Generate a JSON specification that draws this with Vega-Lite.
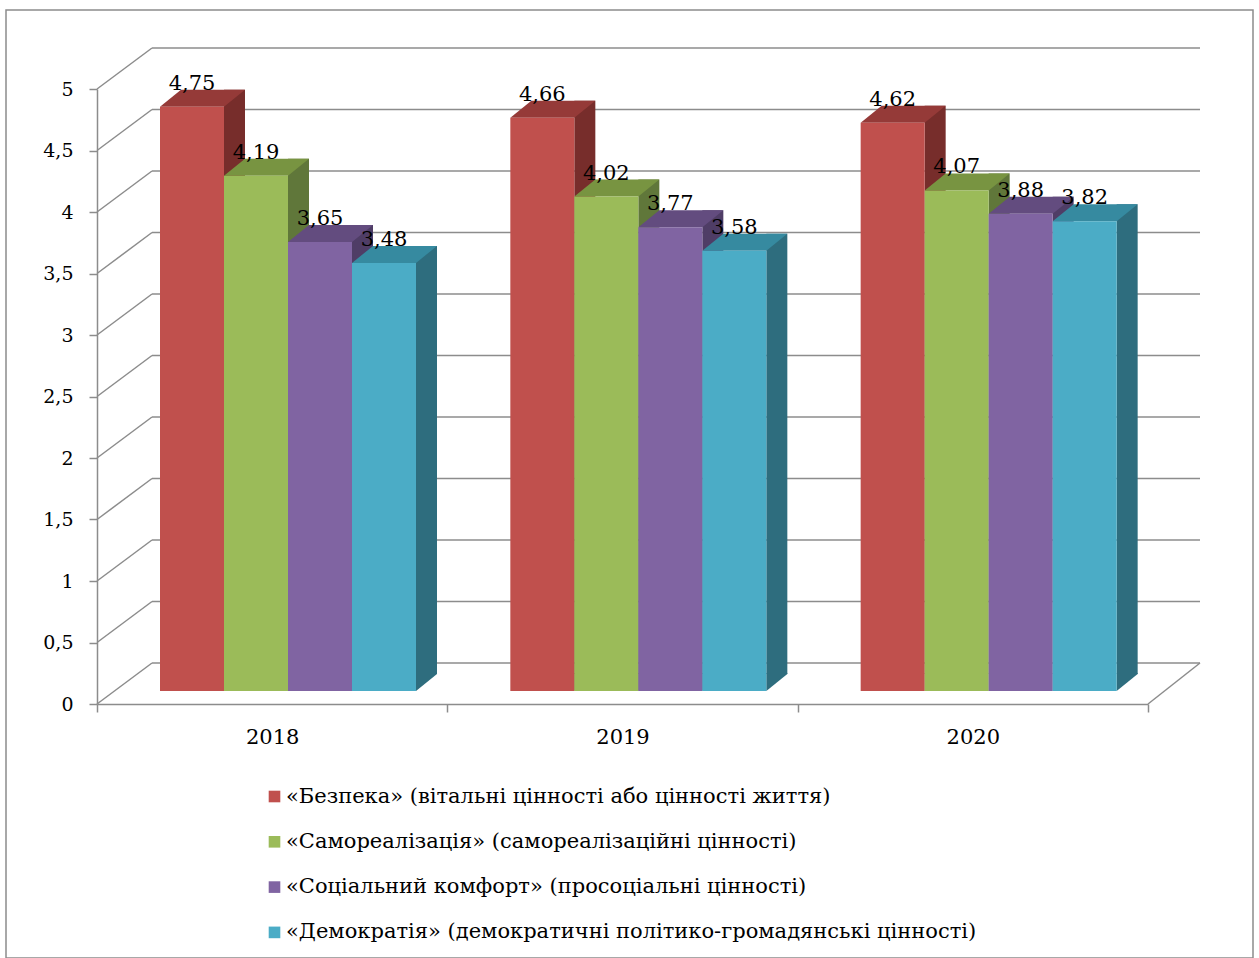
{
  "$schema": "https://vega.github.io/schema/vega-lite/v6.json",
  "width": 1247,
  "height": 948,
  "autosize": {"type": "none"},
  "padding": {"left": 6, "top": 10, "right": 6, "bottom": 0},
  "background": "white",
  "config": {
    "view": {"stroke": "#8c8c8c", "strokeWidth": 1.5},
    "font": "DejaVu Serif",
    "locale": {"number": {"decimal": ",", "thousands": " ", "grouping": [3], "currency": ["", ""]}},
    "axis": {
      "labelFont": "DejaVu Serif",
      "labelColor": "#000000",
      "domainColor": "#8c8c8c",
      "tickColor": "#8c8c8c",
      "domainWidth": 1.5,
      "tickWidth": 1.5,
      "grid": false
    },
    "legend": {
      "orient": "none",
      "legendX": 258,
      "legendY": 776,
      "direction": "vertical",
      "symbolType": "square",
      "symbolSize": 135,
      "symbolStrokeWidth": 0,
      "labelFont": "DejaVu Serif",
      "labelFontSize": 21,
      "labelColor": "#000000",
      "labelLimit": 0,
      "rowPadding": 23.3,
      "labelOffset": 1,
      "padding": 0,
      "title": null
    }
  },
  "datasets": {
    "bars": [
      {"year": "2018", "series": "«Безпека» (вітальні цінності або цінності життя)", "value": 4.75},
      {"year": "2018", "series": "«Самореалізація» (самореалізаційні цінності)", "value": 4.19},
      {"year": "2018", "series": "«Соціальний комфорт» (просоціальні цінності)", "value": 3.65},
      {"year": "2018", "series": "«Демократія» (демократичні політико-громадянські цінності)", "value": 3.48},
      {"year": "2019", "series": "«Безпека» (вітальні цінності або цінності життя)", "value": 4.66},
      {"year": "2019", "series": "«Самореалізація» (самореалізаційні цінності)", "value": 4.02},
      {"year": "2019", "series": "«Соціальний комфорт» (просоціальні цінності)", "value": 3.77},
      {"year": "2019", "series": "«Демократія» (демократичні політико-громадянські цінності)", "value": 3.58},
      {"year": "2020", "series": "«Безпека» (вітальні цінності або цінності життя)", "value": 4.62},
      {"year": "2020", "series": "«Самореалізація» (самореалізаційні цінності)", "value": 4.07},
      {"year": "2020", "series": "«Соціальний комфорт» (просоціальні цінності)", "value": 3.88},
      {"year": "2020", "series": "«Демократія» (демократичні політико-громадянські цінності)", "value": 3.82}
    ],
    "grid": [
      {"v": 0}, {"v": 0.5}, {"v": 1}, {"v": 1.5}, {"v": 2}, {"v": 2.5},
      {"v": 3}, {"v": 3.5}, {"v": 4}, {"v": 4.5}, {"v": 5}
    ]
  },
  "layer": [
    {
      "data": {"name": "grid"},
      "mark": {"type": "rule", "color": "#8c8c8c", "strokeWidth": 1.5, "xOffset": 55, "x2Offset": 52, "yOffset": -41},
      "encoding": {
        "x": {"datum": "2018", "type": "nominal", "bandPosition": 0, "title": null,
          "scale": {"domain": ["2018", "2019", "2020"], "range": [91, 1142], "paddingInner": 0, "paddingOuter": 0},
          "axis": {"offset": -254, "tickBand": "extent", "tickSize": 8, "labelPadding": 14, "labelAngle": 0, "labelFontSize": 21, "title": null}},
        "x2": {"datum": "2020", "bandPosition": 1},
        "y": {"field": "v", "type": "quantitative", "title": null,
          "scale": {"domain": [0, 5], "range": [694, 79], "nice": false, "zero": true},
          "axis": {"offset": -91, "values": [0, 0.5, 1, 1.5, 2, 2.5, 3, 3.5, 4, 4.5, 5], "format": "~g", "tickSize": 8, "labelPadding": 16, "labelFontSize": 19, "title": null}}
      }
    },
    {
      "data": {"name": "grid"},
      "mark": {"type": "rule", "color": "#8c8c8c", "strokeWidth": 1.5, "x2Offset": 55, "y2Offset": -41},
      "encoding": {
        "x": {"datum": "2018", "type": "nominal", "bandPosition": 0, "title": null},
        "x2": {"datum": "2018", "bandPosition": 0},
        "y": {"field": "v", "type": "quantitative", "title": null},
        "y2": {"field": "v"}
      }
    },
    {
      "data": {"values": [{"v": 0}]},
      "mark": {"type": "rule", "color": "#8c8c8c", "strokeWidth": 1.5, "x2Offset": 52, "y2Offset": -41},
      "encoding": {
        "x": {"datum": "2020", "type": "nominal", "bandPosition": 1, "title": null},
        "x2": {"datum": "2020", "bandPosition": 1},
        "y": {"field": "v", "type": "quantitative", "title": null},
        "y2": {"field": "v"}
      }
    },
    {
      "data": {"name": "bars"},
      "mark": {"type": "bar", "width": 21, "yOffset": -30, "y2Offset": -30},
      "encoding": {
        "x": {"field": "year", "type": "nominal", "title": null},
        "xOffset": {"field": "series", "type": "nominal", "scale": {"type": "band", "domain": ["«Безпека» (вітальні цінності або цінності життя)", "«Самореалізація» (самореалізаційні цінності)", "«Соціальний комфорт» (просоціальні цінності)", "«Демократія» (демократичні політико-громадянські цінності)"], "range": [105.5, 361.5], "paddingInner": 0, "paddingOuter": 0}},
        "y": {"field": "value", "type": "quantitative", "title": null},
        "fill": {"field": "series", "type": "nominal", "legend": null, "scale": {"domain": ["«Безпека» (вітальні цінності або цінності життя)", "«Самореалізація» (самореалізаційні цінності)", "«Соціальний комфорт» (просоціальні цінності)", "«Демократія» (демократичні політико-громадянські цінності)"], "range": ["#772D2B", "#60773A", "#4F3D66", "#2E6D7E"]}}
      }
    },
    {
      "data": {"name": "bars"},
      "mark": {"type": "point", "shape": "M32,-18L53,-18L53,-17L32,0Z", "size": 4, "filled": true, "opacity": 1, "strokeWidth": 0, "yOffset": -13},
      "encoding": {
        "x": {"field": "year", "type": "nominal", "title": null},
        "xOffset": {"field": "series", "type": "nominal", "scale": {"type": "band", "domain": ["«Безпека» (вітальні цінності або цінності життя)", "«Самореалізація» (самореалізаційні цінності)", "«Соціальний комфорт» (просоціальні цінності)", "«Демократія» (демократичні політико-громадянські цінності)"], "range": [63, 319], "paddingInner": 0, "paddingOuter": 0}},
        "y": {"datum": 0, "type": "quantitative", "title": null},
        "fill": {"field": "series", "type": "nominal", "legend": null, "scale": {"domain": ["«Безпека» (вітальні цінності або цінності життя)", "«Самореалізація» (самореалізаційні цінності)", "«Соціальний комфорт» (просоціальні цінності)", "«Демократія» (демократичні політико-громадянські цінності)"], "range": ["#772D2B", "#60773A", "#4F3D66", "#2E6D7E"]}}
      }
    },
    {
      "data": {"name": "bars"},
      "mark": {"type": "point", "shape": "M-32,0L-11,-17L53,-17L32,0Z", "size": 4, "filled": true, "opacity": 1, "strokeWidth": 0, "yOffset": -13},
      "encoding": {
        "x": {"field": "year", "type": "nominal", "title": null},
        "xOffset": {"field": "series", "type": "nominal", "scale": {"type": "band", "domain": ["«Безпека» (вітальні цінності або цінності життя)", "«Самореалізація» (самореалізаційні цінності)", "«Соціальний комфорт» (просоціальні цінності)", "«Демократія» (демократичні політико-громадянські цінності)"], "range": [63, 319], "paddingInner": 0, "paddingOuter": 0}},
        "y": {"field": "value", "type": "quantitative", "title": null},
        "fill": {"field": "series", "type": "nominal", "legend": null, "scale": {"domain": ["«Безпека» (вітальні цінності або цінності життя)", "«Самореалізація» (самореалізаційні цінності)", "«Соціальний комфорт» (просоціальні цінності)", "«Демократія» (демократичні політико-громадянські цінності)"], "range": ["#953A38", "#789441", "#634C7F", "#368AA0"]}}
      }
    },
    {
      "data": {"name": "bars"},
      "mark": {"type": "bar", "yOffset": -13, "y2Offset": -13},
      "encoding": {
        "x": {"field": "year", "type": "nominal", "title": null},
        "xOffset": {"field": "series", "type": "nominal", "scale": {"type": "band", "domain": ["«Безпека» (вітальні цінності або цінності життя)", "«Самореалізація» (самореалізаційні цінності)", "«Соціальний комфорт» (просоціальні цінності)", "«Демократія» (демократичні політико-громадянські цінності)"], "range": [63, 319], "paddingInner": 0, "paddingOuter": 0}},
        "y": {"field": "value", "type": "quantitative", "title": null},
        "color": {"field": "series", "type": "nominal", "scale": {"domain": ["«Безпека» (вітальні цінності або цінності життя)", "«Самореалізація» (самореалізаційні цінності)", "«Соціальний комфорт» (просоціальні цінності)", "«Демократія» (демократичні політико-громадянські цінності)"], "range": ["#C0504D", "#9BBB59", "#8064A2", "#4BACC6"]}}
      }
    },
    {
      "data": {"name": "bars"},
      "mark": {"type": "text", "font": "DejaVu Serif", "fontSize": 21, "color": "#000000", "align": "center", "baseline": "alphabetic", "yOffset": -30},
      "encoding": {
        "x": {"field": "year", "type": "nominal", "title": null},
        "xOffset": {"field": "series", "type": "nominal", "scale": {"type": "band", "domain": ["«Безпека» (вітальні цінності або цінності життя)", "«Самореалізація» (самореалізаційні цінності)", "«Соціальний комфорт» (просоціальні цінності)", "«Демократія» (демократичні політико-громадянські цінності)"], "range": [63, 319], "paddingInner": 0, "paddingOuter": 0}},
        "y": {"field": "value", "type": "quantitative", "title": null},
        "text": {"field": "value", "type": "quantitative", "format": ".2f"}
      }
    }
  ],
  "resolve": {"scale": {"fill": "independent", "xOffset": "independent"}}
}
